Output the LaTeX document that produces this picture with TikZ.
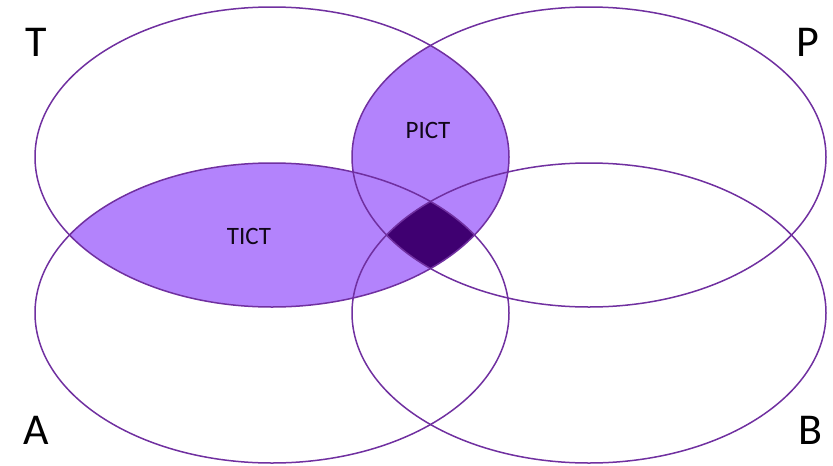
\documentclass[tikz,border=0pt]{standalone}
\usepackage{fontspec}
\setmainfont{Carlito}
\usetikzlibrary{positioning}
\definecolor{vennline}{RGB}{112,48,160}
\definecolor{vennfill}{RGB}{179,131,252}
\definecolor{venndark}{RGB}{63,0,113}
\tikzset{
    x=1pt, y=-1pt, % pixel-like coordinates, y going down
    set/.style={draw=vennline, line width=1.5pt}, % outline of each set
    setname/.style={font=\fontsize{44}{44}\selectfont}, % big corner letters
    zone/.style={font=\fontsize{25}{25}\selectfont, text=black!85!vennline}, % labels inside the lenses
    }
\def\setT{(272,157) ellipse [x radius=237pt, y radius=150pt]}
\def\setP{(589,157) ellipse [x radius=237pt, y radius=150pt]}
\def\setA{(272,313) ellipse [x radius=237pt, y radius=150pt]}
\def\setB{(589,313) ellipse [x radius=237pt, y radius=150pt]}

\begin{document}
\begin{tikzpicture}
        \useasboundingbox (0,0) rectangle (833,466);

        % shaded lenses
        \begin{scope}
            \clip \setT;
            \fill[vennfill] \setA;
            \fill[vennfill] \setP;
        \end{scope}
        \begin{scope}
            \clip \setT;
            \clip \setP;
            \clip \setA;
            \fill[venndark] \setB;
        \end{scope}

        \draw[set] \setT;
        \draw[set] \setP;
        \draw[set] \setA;
        \draw[set] \setB;

        \node[setname] (t) at (36,42) {T};
        \node[setname] (p) at (808,42) {P};
        \node[setname] (a) at (36,430) {A};
        \node[setname] (b) at (810,430) {B};

        \node[zone] (pict) at (428,130) {PICT};
        \node[zone] (tict) at (249,236) {TICT};
    \end{tikzpicture}
\end{document}
